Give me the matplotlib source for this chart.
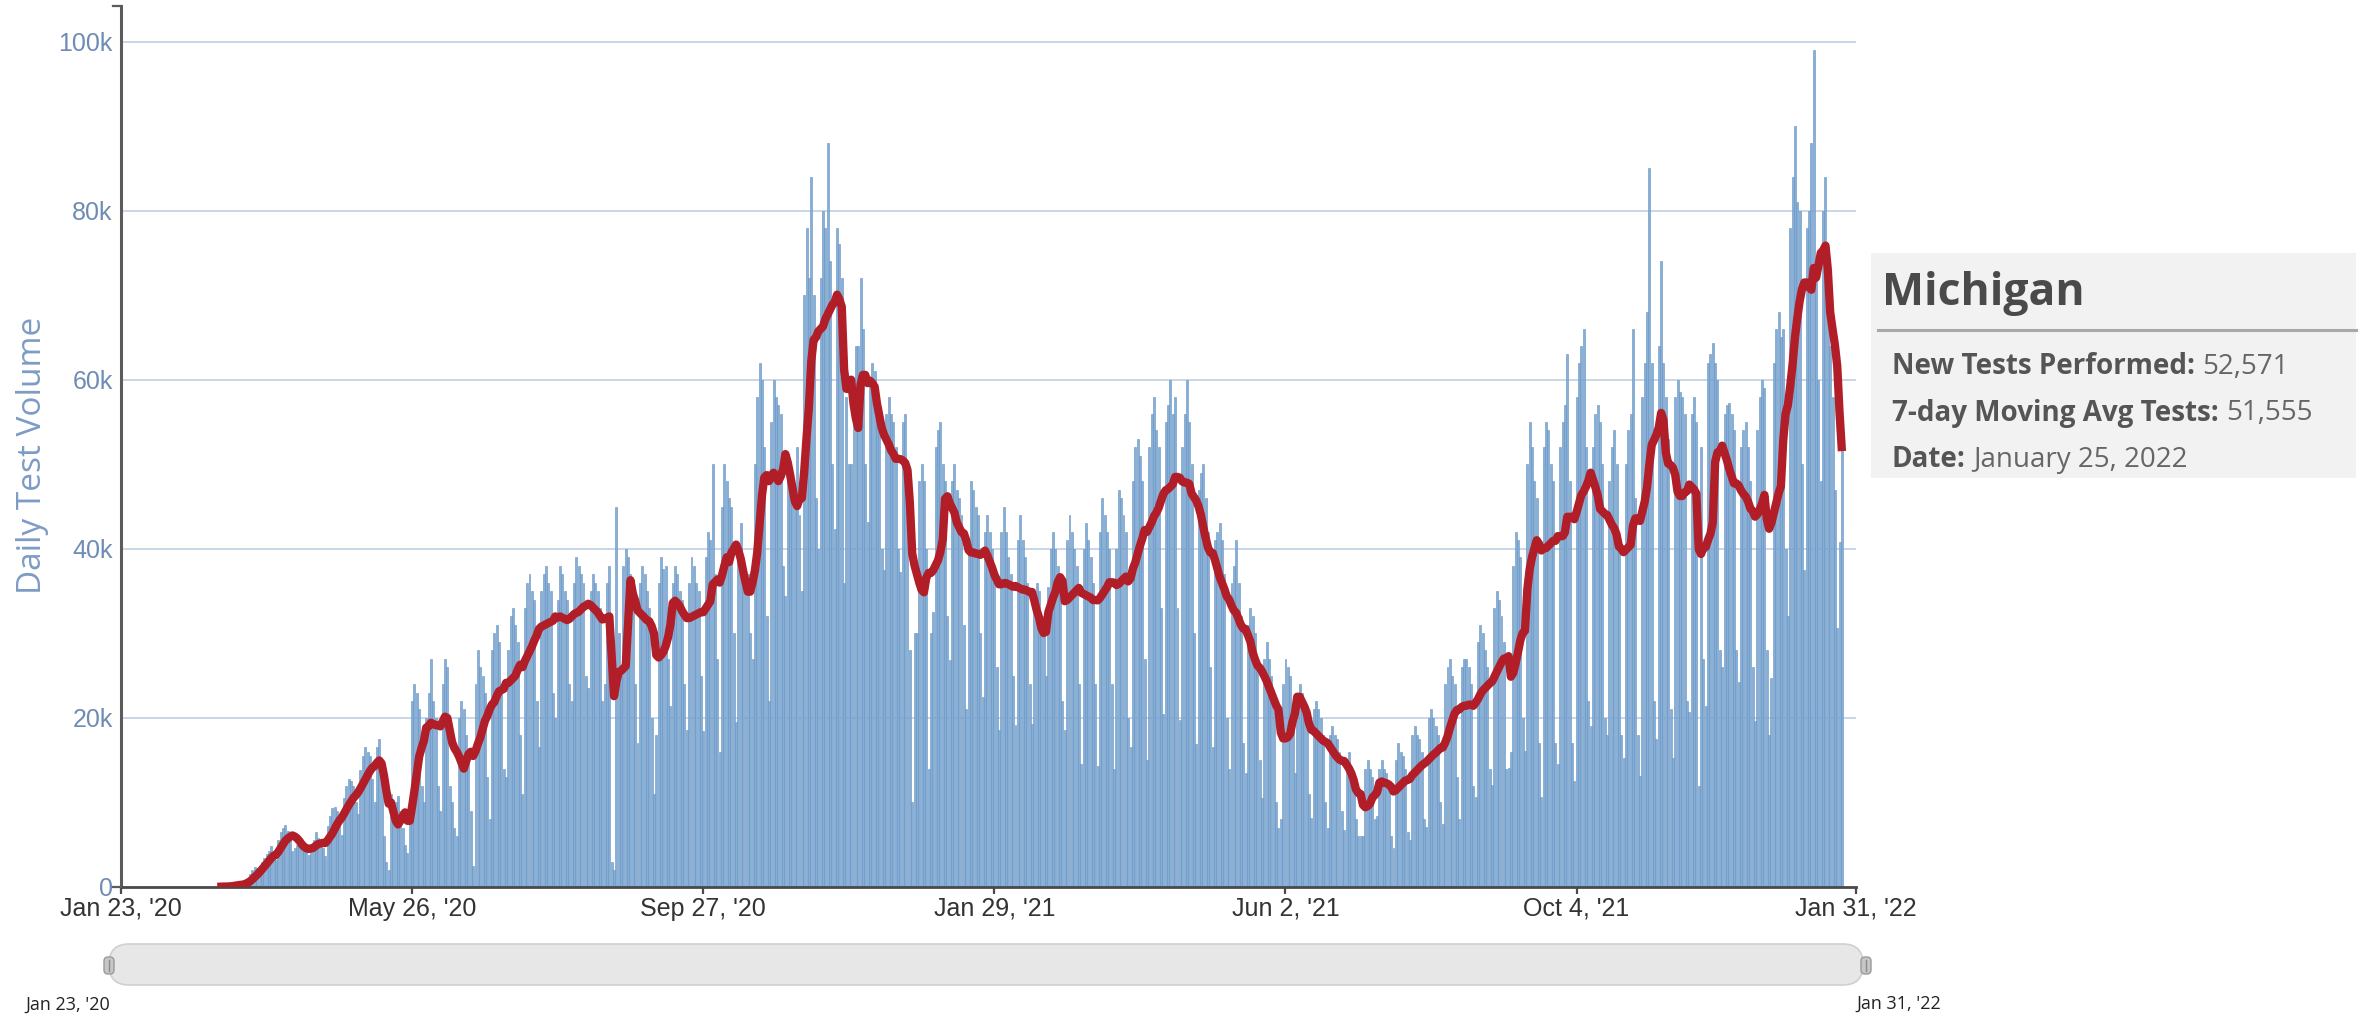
import numpy as np
import pandas as pd
import matplotlib
matplotlib.use("Agg")
import matplotlib.pyplot as plt
from matplotlib.patches import FancyBboxPatch, Rectangle

# Daily new tests performed in Michigan (thousands), one list per month
tests_2020_03 = [0.02, 0.05, 0.08, 0.06, 0.05,
                 0.15, 0.2, 0.3, 0.35, 0.45, 0.3, 0.25,
                 0.8, 1.1, 1.5, 2.0, 2.4, 2.1, 2.4,
                 3.0, 3.4, 3.9, 4.3, 4.8, 4.0, 3.2,
                 5.5, 6.5]
tests_2020_04 = [7.0, 7.3, 6.6, 5.5, 4.3,
                 4.6, 5.0, 4.8, 4.5, 4.6, 4.2, 3.8,
                 5.0, 5.6, 6.5, 5.8, 5.2, 4.6, 3.7,
                 7.2, 8.4, 9.4, 9.5, 9.0, 7.8, 6.1,
                 10.5, 12.0, 12.8, 12.5]
tests_2020_05 = [12.0, 10.0, 8.6,
                 13.8, 15.5, 16.5, 16.0, 15.5, 12.8, 10.0,
                 16.5, 17.5, 14.0, 6.0, 3.0, 2.0, 11.0,
                 9.0, 10.0, 10.8, 9.0, 7.0, 5.0, 4.0,
                 9.0, 22.0, 24.0, 23.0, 21.0, 12.0, 10.0]
tests_2020_06 = [20, 23, 27, 22, 20, 12, 9,
                 24, 27, 26, 12, 10, 7, 6,
                 20, 22, 21, 18, 16, 9, 2.5,
                 24, 28, 26, 25, 23, 13, 8,
                 28, 30]
tests_2020_07 = [31, 29, 24, 14, 13,
                 28, 32, 33, 31, 29, 18, 11,
                 33, 36, 37, 35, 34, 22, 16.5,
                 35, 37, 38, 36, 35, 23, 20,
                 34, 38, 37, 35, 34]
tests_2020_08 = [24, 22,
                 36, 39, 38, 37, 36, 25, 23.5,
                 35, 37, 36, 35, 33, 22, 24,
                 36, 38, 3, 2, 45, 30, 25,
                 38, 40, 39, 37, 34, 24, 17,
                 36]
tests_2020_09 = [38, 37, 35, 33, 20, 11,
                 18, 36, 39, 37.6, 38, 27, 21.4,
                 36, 38, 37, 35, 34, 24, 18.6,
                 36, 39, 38, 36, 35, 25, 18.5,
                 39, 42, 41]
tests_2020_10 = [50, 37, 27, 16,
                 45, 50, 48, 46, 45, 30, 19.5,
                 40, 43, 38, 37, 37, 30, 27,
                 50, 58, 62, 60, 52, 32, 22,
                 55, 60, 58, 57, 56, 38]
tests_2020_11 = [34.4,
                 48, 50, 47, 46, 52, 44, 35,
                 70, 78, 72, 84, 70, 46, 40,
                 72, 80, 78, 88, 74, 50, 42.4,
                 78, 76, 72, 36, 58, 50, 50,
                 58]
tests_2020_12 = [64, 64, 72, 66, 50, 43.2,
                 60, 62, 61, 58, 56, 40, 37.5,
                 56, 58, 56, 55, 52, 40, 37.2,
                 55, 56, 50, 28, 10, 30, 30,
                 48, 50, 48, 40]
tests_2021_01 = [14, 30, 32.5,
                 52, 54, 55, 50, 48, 32, 26.8,
                 48, 50, 47, 46, 44, 31, 21,
                 40, 48, 47, 45, 44, 30, 22.5,
                 42, 44, 42, 40, 38, 26, 18.6]
tests_2021_02 = [42, 45, 42, 39, 37, 25, 19.2,
                 41, 44, 41, 39, 36, 24, 19.3,
                 34, 36, 35, 30, 32, 25, 35.5,
                 40, 42, 40, 38, 36, 22, 18.6]
tests_2021_03 = [41, 44, 42, 40, 38, 24, 14.6,
                 40, 43, 41, 39, 36, 24, 14.3,
                 42, 46, 44, 42, 40, 24, 14,
                 40, 47, 46, 44, 42, 20, 16.5,
                 48, 52, 53]
tests_2021_04 = [51, 48, 27, 15,
                 52, 56, 58, 54, 52, 33, 20.5,
                 55, 57, 60, 56, 58, 33, 19.8,
                 52, 56, 60, 55, 50, 30, 16.9,
                 47, 49, 50, 46, 42]
tests_2021_05 = [26, 16.5,
                 41, 42, 43, 41, 37, 20, 14,
                 36, 38, 41, 36, 32, 17, 13.5,
                 31, 33, 32, 30, 27, 15, 10.5,
                 27, 29, 27, 25, 22, 10, 7,
                 8]
tests_2021_06 = [24, 27, 26, 25, 20, 13.5,
                 22, 24, 23, 22, 20, 11, 8.2,
                 21, 22, 21, 20, 18, 10, 7,
                 18, 19, 18, 17.5, 16, 9, 6.8,
                 15, 16, 14]
tests_2021_07 = [12, 8, 6, 6,
                 6, 14, 15, 14, 13, 8, 8.4,
                 14, 15, 14, 13.5, 12, 6, 4.6,
                 15, 17, 16, 15.5, 14, 6.5, 5.6,
                 18, 19, 18, 17.5, 16, 8]
tests_2021_08 = [7.1,
                 20, 21, 20, 19, 18, 10, 7.5,
                 24, 26, 27, 25, 24, 13, 8,
                 26, 27, 27, 26, 24, 12, 10.6,
                 29, 31, 30, 28, 26, 14, 12.1,
                 33, 35]
tests_2021_09 = [34, 32, 29, 14, 14.1,
                 16, 38, 42, 41, 39, 20, 16.1,
                 50, 55, 52, 48, 46, 17, 10.6,
                 52, 55, 54, 50, 48, 17, 14.5,
                 52, 55, 57, 63]
tests_2021_10 = [48, 17, 12.5,
                 58, 62, 64, 66, 52, 22, 19,
                 52, 56, 57, 55, 50, 20, 18,
                 48, 52, 54, 50, 40, 18, 15.2,
                 50, 54, 56, 66, 46, 18, 13.1]
tests_2021_11 = [58, 62, 68, 85, 62, 22, 17.5,
                 64, 74, 62, 58, 53, 21, 15.2,
                 58, 60, 58.5, 58, 56, 22, 20.7,
                 56, 58, 55, 12, 52, 27, 21.4,
                 62, 63]
tests_2021_12 = [64.4, 62, 60, 28, 26,
                 56, 57, 57.2, 56, 54, 28, 24.3,
                 52, 54, 55, 52, 48, 26, 19.6,
                 54, 58, 60, 59, 28, 18, 24.7,
                 62, 66, 68, 65, 66]
tests_2022_01 = [40, 32,
                 78, 84, 90, 81, 80, 50, 37.5,
                 78, 80, 88, 99, 72, 60, 48,
                 80, 84, 68, 64, 58, 46.914, 30.6, 40.8, 52.571]

month_starts = ["2020-03-04", "2020-04-01", "2020-05-01", "2020-06-01",
                "2020-07-01", "2020-08-01", "2020-09-01", "2020-10-01",
                "2020-11-01", "2020-12-01", "2021-01-01", "2021-02-01",
                "2021-03-01", "2021-04-01", "2021-05-01", "2021-06-01",
                "2021-07-01", "2021-08-01", "2021-09-01", "2021-10-01",
                "2021-11-01", "2021-12-01", "2022-01-01"]
monthly_tests = [tests_2020_03, tests_2020_04, tests_2020_05, tests_2020_06,
                 tests_2020_07, tests_2020_08, tests_2020_09, tests_2020_10,
                 tests_2020_11, tests_2020_12, tests_2021_01, tests_2021_02,
                 tests_2021_03, tests_2021_04, tests_2021_05, tests_2021_06,
                 tests_2021_07, tests_2021_08, tests_2021_09, tests_2021_10,
                 tests_2021_11, tests_2021_12, tests_2022_01]

x_tick_dates = ["2020-01-23", "2020-05-26", "2020-09-27", "2021-01-29",
                "2021-06-02", "2021-10-04", "2022-01-31"]
x_tick_labels = ["Jan 23, '20", "May 26, '20", "Sep 27, '20", "Jan 29, '21",
                 "Jun 2, '21", "Oct 4, '21", "Jan 31, '22"]
y_ticks = [0, 20000, 40000, 60000, 80000, 100000]
y_tick_labels = ["0", "20k", "40k", "60k", "80k", "100k"]
state_name = "Michigan"

# assemble the daily series and its 7-day moving average
dates = pd.DatetimeIndex(np.concatenate(
    [pd.date_range(s, periods=len(v), freq="D").values
     for s, v in zip(month_starts, monthly_tests)]))
tests = np.concatenate([np.asarray(v, dtype=float) for v in monthly_tests]) * 1000
avg7 = pd.Series(tests, index=dates).rolling(7, min_periods=1).mean()
tick_dates = pd.to_datetime(x_tick_dates)

W, H = 2369, 1018
SANS = ["Liberation Sans", "DejaVu Sans"]
UI = ["Open Sans", "DejaVu Sans"]

fig = plt.figure(figsize=(W / 100, H / 100), dpi=100)
fig.patch.set_facecolor("white")
ax = fig.add_axes([121 / W, 1 - 887 / H, (1856 - 121) / W, (887 - 6) / H])

ax.bar(dates, tests, width=0.84, color="#85afd7", edgecolor="#6792c1",
       linewidth=0.4, zorder=2)
ax.plot(avg7.index, avg7.values, color="#b11e27", lw=6,
        solid_joinstyle="round", solid_capstyle="butt", zorder=3)

ax.set_xlim(tick_dates[0], tick_dates[-1])
ax.set_ylim(0, 104200)
ax.set_yticks(y_ticks)
ax.set_yticklabels(y_tick_labels)
ax.set_xticks(tick_dates)
ax.set_xticklabels(x_tick_labels)
ax.yaxis.grid(True, color="#c9d6e8", lw=1.4, zorder=0)
ax.set_axisbelow(True)
for side in ("top", "right"):
    ax.spines[side].set_visible(False)
ax.spines["left"].set_color("#5b5b5b")
ax.spines["left"].set_linewidth(2.2)
ax.spines["bottom"].set_color("#4a4a4a")
ax.spines["bottom"].set_linewidth(2.0)
ax.tick_params(axis="y", length=0, pad=6, labelsize=18, labelcolor="#6f8cb5")
ax.tick_params(axis="x", length=5, width=1.6, color="#4a4a4a", pad=2,
               labelsize=18, labelcolor="#333333")
for lbl in ax.get_xticklabels() + ax.get_yticklabels():
    lbl.set_fontfamily(SANS)

fig.text(33 / W, 1 - 455 / H, "Daily Test Volume", rotation=90, ha="center",
         va="center", fontsize=24, color="#7d9bc4", family=UI)

# overlay in pixel units for the navigator and the tooltip
ov = fig.add_axes([0, 0, 1, 1], zorder=5)
ov.set_xlim(0, W)
ov.set_ylim(H, 0)
ov.axis("off")

# small end stubs on the value axis
ov.plot([113, 121], [6, 6], color="#5b5b5b", lw=1.6)
ov.plot([113, 121], [887, 887], color="#5b5b5b", lw=1.6)

# navigator strip
ov.add_patch(FancyBboxPatch((109, 944), 1863 - 109, 41,
                            boxstyle="round,pad=0,rounding_size=20",
                            fc="#e7e7e7", ec="#d0d0d0", lw=1.2))
for hx in (104, 1861):
    ov.add_patch(FancyBboxPatch((hx, 957), 10, 17,
                                boxstyle="round,pad=0,rounding_size=4",
                                fc="#c6c6c6", ec="#9a9a9a", lw=1.0))
    ov.plot([hx + 5, hx + 5], [960, 971], color="#8a8a8a", lw=1.0)
ov.text(25, 1005, x_tick_labels[0], fontsize=13, ha="left", va="center",
        color="#222222", family=UI)
ov.text(1856, 1004, x_tick_labels[-1], fontsize=13, ha="left", va="center",
        color="#222222", family=UI)

# tooltip for the latest day
ov.add_patch(Rectangle((1871, 253), 2356 - 1871, 478 - 253, fc="#f2f2f2",
                       ec="none"))
ov.text(1882, 305, state_name, fontsize=32, fontweight="bold",
        color="#4a4a4a", va="baseline", ha="left", family=UI)
ov.plot([1878, 2356], [330, 330], color="#a8a8a8", lw=2.2)

last = dates[-1]
rows = [("New Tests Performed:", f"{tests[-1]:,.0f}"),
        ("7-day Moving Avg Tests:", f"{avg7.iloc[-1]:,.0f}"),
        ("Date:", f"{last:%B} {last.day}, {last.year}")]
fig.canvas.draw()
renderer = fig.canvas.get_renderer()
for i, (label, value) in enumerate(rows):
    yb = 374 + i * 46.5
    t = ov.text(1892, yb, label, fontsize=20, fontweight="bold",
                color="#555555", va="baseline", ha="left", family=UI)
    x_end = t.get_window_extent(renderer).x1
    ov.text(x_end + 7, yb, value, fontsize=20, color="#666666",
            va="baseline", ha="left", family=UI)

fig.savefig("out.png", dpi=100, facecolor="white")
